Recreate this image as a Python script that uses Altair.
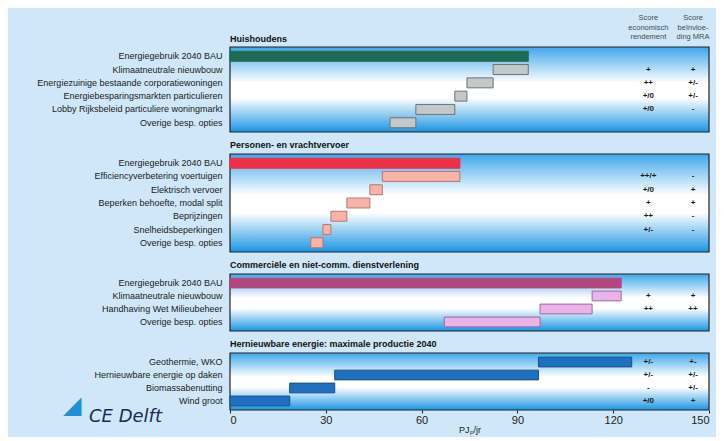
import altair as alt
import pandas as pd

FONT = "Liberation Sans"
W = 479
XMAX = 150

# ---------------- data ----------------
hh_title = "Huishoudens"
hh_labels = ["Energiegebruik 2040 BAU", "Klimaatneutrale nieuwbouw",
             "Energiezuinige bestaande corporatiewoningen",
             "Energiebesparingsmarkten particulieren",
             "Lobby Rijksbeleid particuliere woningmarkt", "Overige besp. opties"]
hh_start = [0, 82.4, 74.2, 70.4, 58.2, 50.1]
hh_end = [93.4, 93.4, 82.4, 74.2, 70.4, 58.2]
hh_econ = ["", "+", "++", "+/0", "+/0", ""]
hh_mra = ["", "+", "+/-", "+/-", "-", ""]

vv_title = "Personen- en vrachtvervoer"
vv_labels = ["Energiegebruik 2040 BAU", "Efficiencyverbetering voertuigen",
             "Elektrisch vervoer", "Beperken behoefte, modal split",
             "Beprijzingen", "Snelheidsbeperkingen", "Overige besp. opties"]
vv_start = [0, 47.7, 43.8, 36.6, 31.6, 29.1, 25.3]
vv_end = [72.0, 72.0, 47.7, 43.8, 36.6, 31.6, 29.1]
vv_econ = ["", "++/+", "+/0", "+", "++", "+/-", ""]
vv_mra = ["", "-", "+", "+", "-", "-", ""]

dv_title = "Commerciële en niet-comm. dienstverlening"
dv_labels = ["Energiegebruik 2040 BAU", "Klimaatneutrale nieuwbouw",
             "Handhaving Wet Milieubeheer", "Overige besp. opties"]
dv_start = [0, 113.4, 97.1, 67.1]
dv_end = [122.5, 122.5, 113.4, 97.1]
dv_econ = ["", "+", "++", ""]
dv_mra = ["", "+", "++", ""]

he_title = "Hernieuwbare energie: maximale productie 2040"
he_labels = ["Geothermie, WKO", "Hernieuwbare energie op daken",
             "Biomassabenutting", "Wind groot"]
he_start = [96.6, 32.8, 18.7, 0]
he_end = [125.8, 96.6, 32.8, 18.7]
he_econ = ["+/-", "+/-", "-", "+/0"]
he_mra = ["+-", "+/-", "+/-", "+"]

score_headers = ["Score\neconomisch\nrendement", "Score\nbeïnvloe-\nding MRA"]
score_cols = [131, 145]
x_ticks = [0, 30, 60, 90, 120, 150]
x_title = "PJₚ/jr"

gradient = alt.LinearGradient(
    gradient="linear", x1=0, x2=0, y1=0, y2=1,
    stops=[alt.GradientStop(color="#3ea7ea", offset=0),
           alt.GradientStop(color="#ffffff", offset=0.42),
           alt.GradientStop(color="#ffffff", offset=0.6),
           alt.GradientStop(color="#1b95e3", offset=1)])


def panel(labels, start, end, econ, mra, title, h, bau_col, step_col,
          stroke_col, has_bau, last=False, first=False):
    kinds = ["bau" if (i == 0 and has_bau) else "step" for i in range(len(labels))]
    df = pd.DataFrame({"label": labels, "start": start, "end": end,
                       "kind": kinds, "econ": econ, "mra": mra})
    if last:
        xaxis = alt.Axis(values=x_ticks, grid=False, domain=False, tickSize=3,
                         tickColor="#222", labelFontSize=11, labelColor="#222",
                         labelFont=FONT, title=x_title, titleFontSize=9,
                         titleFontWeight="normal", titleColor="#222",
                         titleFont=FONT, labelPadding=1, titlePadding=0)
    else:
        xaxis = None
    xs = alt.Scale(domain=[0, XMAX], nice=False, zero=True)
    ys = alt.Scale(paddingInner=0.25, paddingOuter=0.32)
    yaxis = alt.Axis(title=None, domain=False, ticks=False, labelFontSize=9,
                     labelColor="#1a1a1a", labelFont=FONT, labelPadding=8,
                     minExtent=216, maxExtent=216, labelLimit=210)

    bg = alt.Chart(alt.Data(values=[{}])).mark_rect(
        color=gradient, stroke="#222", strokeWidth=1.2
    ).encode(x=alt.value(0), x2=alt.value(W), y=alt.value(0), y2=alt.value(h))

    bars = alt.Chart(df).mark_bar(strokeWidth=1).encode(
        x=alt.X("start:Q", scale=xs, axis=xaxis),
        x2="end:Q",
        y=alt.Y("label:N", sort=labels, scale=ys, axis=yaxis),
        color=alt.Color("kind:N", scale=alt.Scale(domain=["bau", "step"],
                                                   range=[bau_col, step_col]),
                        legend=None),
        stroke=alt.Stroke("kind:N", scale=alt.Scale(domain=["bau", "step"],
                                                     range=[bau_col, stroke_col]),
                          legend=None),
    )
    t1 = alt.Chart(df).mark_text(fontSize=8, fontWeight="bold", color="#1a1a1a",
                                 font=FONT).encode(
        x=alt.datum(score_cols[0]), y=alt.Y("label:N", sort=labels), text="econ:N")
    t2 = alt.Chart(df).mark_text(fontSize=8, fontWeight="bold", color="#1a1a1a",
                                 font=FONT).encode(
        x=alt.datum(score_cols[1]), y=alt.Y("label:N", sort=labels), text="mra:N")
    layers = [bg, bars, t1, t2]
    props = dict(width=W, height=h)
    if first:
        hdf = pd.DataFrame({"x": score_cols, "t": score_headers})
        hdr = alt.Chart(hdf).mark_text(fontSize=7.5, color="#4a4a4a", font=FONT,
                                       lineBreak="\n", baseline="bottom",
                                       lineHeight=9.5).encode(
            x="x:Q", y=alt.value(-25), text="t:N")
        ttl = alt.Chart(alt.Data(values=[{"t": title}])).mark_text(
            fontSize=9, fontWeight="bold", color="#111", font=FONT,
            align="left", baseline="bottom").encode(
            x=alt.value(0), y=alt.value(-3), text="t:N")
        layers += [hdr, ttl]
    else:
        props["title"] = alt.TitleParams(title, anchor="start", frame="group",
                                         fontSize=9, fontWeight="bold",
                                         color="#111", font=FONT, offset=3)
    if last:
        logo = alt.Chart(alt.Data(values=[{"t": "CE Delft"}])).mark_text(
            fontSize=18, fontStyle="italic", color="#1b2b52", font="DejaVu Sans",
            align="left", baseline="alphabetic").encode(
            x=alt.value(-141), y=alt.value(69), text="t:N")
        tri = alt.Chart(alt.Data(values=[{"t": "◢"}])).mark_text(
            fontSize=24, color="#1e8fd8", font="DejaVu Sans",
            align="left", baseline="alphabetic").encode(
            x=alt.value(-167), y=alt.value(60), text="t:N")
        layers += [logo, tri]
    return alt.layer(*layers).properties(**props)


p1 = panel(hh_labels, hh_start, hh_end, hh_econ, hh_mra, hh_title, 85,
           "#1d6b50", "#c4c8c8", "#6f7373", True, first=True)
p2 = panel(vv_labels, vv_start, vv_end, vv_econ, vv_mra, vv_title, 98,
           "#ee2f48", "#f8b2a8", "#b07a72", True)
p3 = panel(dv_labels, dv_start, dv_end, dv_econ, dv_mra, dv_title, 57,
           "#b3467f", "#ebb3ea", "#9a6a98", True)
p4 = panel(he_labels, he_start, he_end, he_econ, he_mra, he_title, 57,
           "#1f70c1", "#1f70c1", "#184f88", False, last=True)

chart = alt.vconcat(p1, p2, p3, p4, spacing=6).resolve_scale(
    color="independent", stroke="independent"
).properties(
    background="#cfe7f8", padding={"left": 5, "right": 5, "top": 5, "bottom": 2}
).configure_view(stroke="transparent")

chart.save("out.html", embed_options={"renderer": "svg", "actions": False})
